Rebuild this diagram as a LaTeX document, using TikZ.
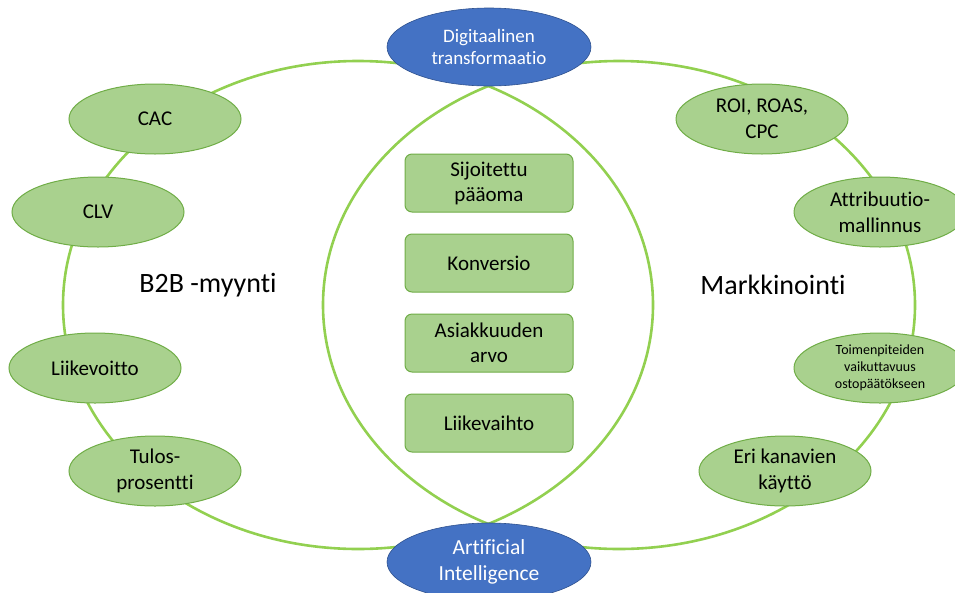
\documentclass[tikz,border=0pt]{standalone}
\usepackage{fontspec}
\setmainfont{Carlito}[Ligatures={NoCommon}]
\usepackage{xcolor}
\usetikzlibrary{positioning, shapes.geometric}
\definecolor{ringgreen}{HTML}{92D050}
\definecolor{leafgreen}{HTML}{A9D18E}
\definecolor{edgegreen}{HTML}{70AD47}
\definecolor{hubblue}{HTML}{4472C4}
\definecolor{hubedge}{HTML}{2F528F}
\tikzset{
  ring/.style={
    draw=ringgreen,
    line width=2.6pt
  },
  leafnode/.style={
    ellipse,
    draw=edgegreen,
    fill=leafgreen,
    line width=1pt,
    minimum width=172pt,
    minimum height=70pt,
    inner sep=0pt,
    align=center,
    font=\fontsize{21}{26}\selectfont
  },
  hubnode/.style={
    ellipse,
    draw=hubedge,
    fill=hubblue,
    line width=0.6pt,
    minimum width=204pt,
    minimum height=78pt,
    inner sep=0pt,
    align=center,
    text=white
  },
  metricbox/.style={
    rectangle,
    draw=edgegreen,
    fill=leafgreen,
    rounded corners=7pt,
    line width=1pt,
    minimum width=168pt,
    minimum height=58pt,
    inner sep=0pt,
    align=center,
    font=\fontsize{21}{25}\selectfont
  },
  arealabel/.style={
    font=\fontsize{28}{32}\selectfont,
    inner sep=0pt
  }
}

\begin{document}
\begin{tikzpicture}[x=1pt, y=-1pt, node distance=21pt]
  \useasboundingbox (0,0) rectangle (955,592);
  \draw[ring] (358,305) ellipse [x radius=295, y radius=244];
  \draw[ring] (619,305) ellipse [x radius=296, y radius=244];

  \node[hubnode, font=\fontsize{19}{22}\selectfont] (dt) at (489,47) {Digitaalinen\\transformaatio};
  \node[hubnode, font=\fontsize{21.5}{26}\selectfont] (ai) at (489,562) {Artificial\\Intelligence};

  \node[leafnode] (cac) at (155,119) {CAC};
  \node[leafnode] (clv) at (98,212) {CLV};
  \node[leafnode] (lv) at (95,368) {Liikevoitto};
  \node[leafnode] (tp) at (155,471) {Tulos-\\prosentti};
  \node[leafnode] (roi) at (762,119) {ROI, ROAS,\\CPC};
  \node[leafnode] (am) at (880,212) {Attribuutio-\\mallinnus};
  \node[leafnode, font=\fontsize{14}{17}\selectfont] (tv) at (880,368) {Toimenpiteiden\\vaikuttavuus\\ostopäätökseen};
  \node[leafnode] (ek) at (785,471) {Eri kanavien\\käyttö};

  \node[metricbox] (sp) at (489,183) {Sijoitettu\\pääoma};
  \node[metricbox, below=of sp] (ko) {Konversio};
  \node[metricbox, below=of ko] (aa) {Asiakkuuden\\arvo};
  \node[metricbox, below=of aa] (lvh) {Liikevaihto};

  \node[arealabel] (b2b) at (208,285) {B2B -myynti};
  \node[arealabel] (mk) at (773,285) {Markkinointi};
\end{tikzpicture}
\end{document}
